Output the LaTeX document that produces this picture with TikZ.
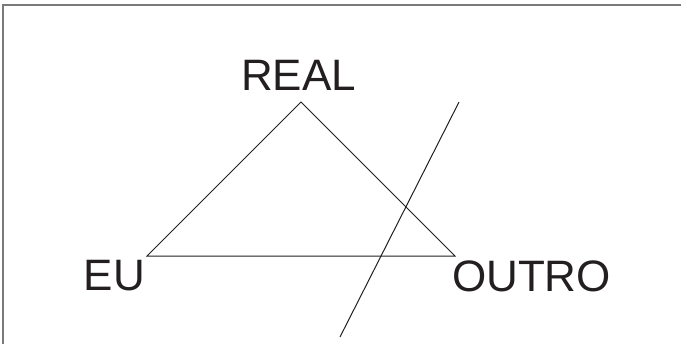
\documentclass[tikz,border=0pt]{standalone}
\usepackage{fontspec}
\setmainfont{Liberation Sans}
\definecolor{ink}{HTML}{231F20}
\definecolor{frame}{HTML}{7A7A7A}
\begin{document}
\begin{tikzpicture}[x=0.75pt,y=-0.75pt,
  lbl/.style={font=\fontsize{33}{37}\selectfont, text=ink, inner sep=0pt, anchor=base},
  edge/.style={draw=ink, line width=0.75pt}]
\useasboundingbox (0,0) rectangle (681,344);
\draw[frame, line width=1.5pt] (3,344) -- (3,5) -- (681,5);
\node[lbl] (real) at (298.5,90) {REAL};
\node[lbl] (eu) at (114.5,290) {EU};
\node[lbl] (outro) at (531.5,291) {OUTRO};
\coordinate (top) at (301,102);
\coordinate (left) at (147,256);
\coordinate (right) at (455,256);
\coordinate (cutA) at (459,102);
\coordinate (cutB) at (340,337);
\draw[edge] (left) -- (top) -- (right) -- cycle;
\draw[edge] (cutA) -- (cutB);
\end{tikzpicture}
\end{document}
